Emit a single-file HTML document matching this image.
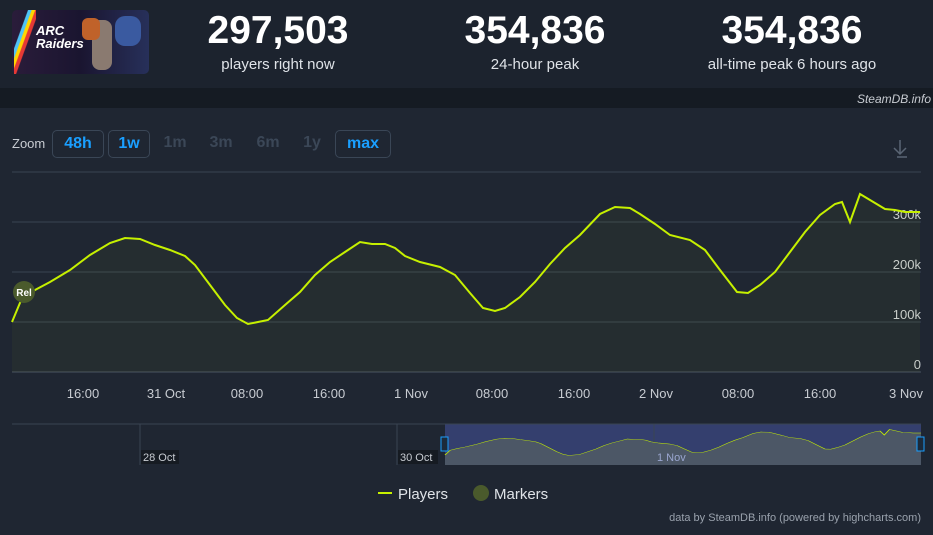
<!DOCTYPE html><html><head><style>
body{margin:0;width:933px;height:535px;background:#1f2632;font-family:"Liberation Sans",sans-serif;overflow:hidden;position:relative}
.hdr{position:absolute;left:0;top:0;width:933px;height:88px;background:#1c232e}
.band{position:absolute;left:0;top:88px;width:933px;height:20px;background:#151b23}
.num{position:absolute;top:9px;width:260px;text-align:center;color:#fff;font-weight:bold;font-size:39px}
.lbl{position:absolute;top:56px;width:260px;text-align:center;color:#dfe3e8;font-size:15px}
.btn{position:absolute;top:130px;height:26px;line-height:26px;font-size:16px;font-weight:bold;text-align:center;border-radius:5px}
.on{border:1px solid #3a4656;color:#1a9fff}
.off{color:#3b4757}
</style></head><body>
<div class="hdr"></div><div class="band"></div>
<div style="position:absolute;left:12px;top:10px;width:137px;height:64px;border-radius:5px;background:linear-gradient(90deg,#2a1c3a,#1a1530 50%,#27305a)">
<div style="position:absolute;left:2px;top:0;width:22px;height:64px;background:linear-gradient(110deg,transparent 30%,#4fc3f7 32%,#4fc3f7 38%,#ffd600 40%,#ffd600 46%,#e53935 48%,#e53935 55%,transparent 57%)"></div>
<div style="position:absolute;left:24px;top:14px;color:#fff;font-weight:bold;font-size:13px;line-height:13px;font-style:italic">ARC<br>Raiders</div>
<div style="position:absolute;left:80px;top:10px;width:20px;height:50px;background:#8a7a70;border-radius:8px"></div>
<div style="position:absolute;left:70px;top:8px;width:18px;height:22px;background:#c0622a;border-radius:6px"></div>
<div style="position:absolute;left:103px;top:6px;width:26px;height:30px;background:#3a5aa0;border-radius:10px"></div>
</div>
<div class="num" style="left:148px">297,503</div><div class="lbl" style="left:148px">players right now</div>
<div class="num" style="left:405px">354,836</div><div class="lbl" style="left:405px">24-hour peak</div>
<div class="num" style="left:662px">354,836</div><div class="lbl" style="left:662px">all-time peak 6 hours ago</div>
<div style="position:absolute;right:2px;top:92px;color:#c8ccd2;font-size:12px;font-style:italic">SteamDB.info</div>
<div style="position:absolute;left:12px;top:136px;color:#c8ccd2;font-size:13px">Zoom</div>
<div class="btn on" style="left:52px;width:50px">48h</div>
<div class="btn on" style="left:108px;width:40px">1w</div>
<div class="btn off" style="left:160px;width:30px">1m</div>
<div class="btn off" style="left:205px;width:32px">3m</div>
<div class="btn off" style="left:252px;width:32px">6m</div>
<div class="btn off" style="left:298px;width:28px">1y</div>
<div class="btn on" style="left:335px;width:54px">max</div>
<svg width="933" height="535" style="position:absolute;left:0;top:0" font-family="Liberation Sans,sans-serif">
<path d="M900 140v14M894 148l6 6 6-6M897 157h10" stroke="#5a6574" stroke-width="1.5" fill="none"/>
<g stroke="#3a4452" stroke-width="1"><line x1="12" x2="921" y1="172" y2="172"/><line x1="12" x2="921" y1="222" y2="222"/><line x1="12" x2="921" y1="272" y2="272"/><line x1="12" x2="921" y1="322" y2="322"/></g>
<line x1="12" x2="921" y1="372" y2="372" stroke="#4a5462"/>
<g fill="#c8ccd2" font-size="13" text-anchor="end"><text x="921" y="219">300k</text><text x="921" y="269">200k</text><text x="921" y="319">100k</text><text x="921" y="369">0</text></g>
<defs><path id="L" d="M12,322 L22,298 L35,290 L50,282 L70,270 L90,255 L110,243 L125,238 L140,239 L155,245 L170,250 L185,256 L195,265 L210,285 L225,305 L237,318 L248,324 L268,320 L285,305 L300,292 L315,275 L330,262 L345,252 L360,242 L372,244 L385,244 L395,248 L405,256 L420,262 L440,267 L455,275 L470,293 L483,308 L495,311 L505,308 L520,297 L535,282 L550,264 L565,248 L580,235 L600,214 L615,207 L630,208 L640,214 L655,224 L670,235 L690,240 L705,250 L720,270 L737,292 L748,293 L760,285 L775,272 L790,252 L805,232 L820,215 L835,204 L842,202 L850,222 L860,194 L875,203 L885,209 L895,210 L905,212 L920,212"/></defs>
<path d="M12,322 L22,298 L35,290 L50,282 L70,270 L90,255 L110,243 L125,238 L140,239 L155,245 L170,250 L185,256 L195,265 L210,285 L225,305 L237,318 L248,324 L268,320 L285,305 L300,292 L315,275 L330,262 L345,252 L360,242 L372,244 L385,244 L395,248 L405,256 L420,262 L440,267 L455,275 L470,293 L483,308 L495,311 L505,308 L520,297 L535,282 L550,264 L565,248 L580,235 L600,214 L615,207 L630,208 L640,214 L655,224 L670,235 L690,240 L705,250 L720,270 L737,292 L748,293 L760,285 L775,272 L790,252 L805,232 L820,215 L835,204 L842,202 L850,222 L860,194 L875,203 L885,209 L895,210 L905,212 L920,212 L920,372 L12,372Z" fill="#c6f000" fill-opacity="0.04"/>
<use href="#L" stroke="#c6f000" stroke-width="2" fill="none"/>
<circle cx="24" cy="292" r="11" fill="#4a5a2c"/><text x="24" y="296" fill="#fff" font-size="10" font-weight="bold" text-anchor="middle">Rel</text>
<g fill="#c8ccd2" font-size="13" text-anchor="middle"><text x="83" y="398">16:00</text><text x="166" y="398">31 Oct</text><text x="247" y="398">08:00</text><text x="329" y="398">16:00</text><text x="411" y="398">1 Nov</text><text x="492" y="398">08:00</text><text x="574" y="398">16:00</text><text x="656" y="398">2 Nov</text><text x="738" y="398">08:00</text><text x="820" y="398">16:00</text><text x="906" y="398">3 Nov</text></g>
<rect x="445" y="424" width="476" height="41" fill="#343f6e"/>
<g stroke="#3a4452"><line x1="140" x2="140" y1="424" y2="465"/><line x1="397" x2="397" y1="424" y2="465"/><line x1="654" x2="654" y1="424" y2="465"/></g>
<line x1="12" x2="921" y1="424" y2="424" stroke="#3a4452"/>
<g transform="translate(445,465) scale(0.5242,0.2) translate(-12,-372)">
<path d="M12,322 L22,298 L35,290 L50,282 L70,270 L90,255 L110,243 L125,238 L140,239 L155,245 L170,250 L185,256 L195,265 L210,285 L225,305 L237,318 L248,324 L268,320 L285,305 L300,292 L315,275 L330,262 L345,252 L360,242 L372,244 L385,244 L395,248 L405,256 L420,262 L440,267 L455,275 L470,293 L483,308 L495,311 L505,308 L520,297 L535,282 L550,264 L565,248 L580,235 L600,214 L615,207 L630,208 L640,214 L655,224 L670,235 L690,240 L705,250 L720,270 L737,292 L748,293 L760,285 L775,272 L790,252 L805,232 L820,215 L835,204 L842,202 L850,222 L860,194 L875,203 L885,209 L895,210 L905,212 L920,212 L920,372 L12,372Z" fill="#4c5766"/>
<use href="#L" stroke="#c6f000" stroke-width="2" fill="none" vector-effect="non-scaling-stroke"/>
</g>
<rect x="141" y="450" width="38" height="14" fill="#161b22"/><rect x="398" y="450" width="40" height="14" fill="#161b22"/>
<g fill="#c8ccd2" font-size="11"><text x="143" y="461">28 Oct</text><text x="400" y="461">30 Oct</text><text x="657" y="461" fill="#9aa6d0">1 Nov</text></g>
<rect x="441" y="437" width="7" height="14" fill="#1c2a3a" stroke="#1a9fff"/><rect x="917" y="437" width="7" height="14" fill="#1c2a3a" stroke="#1a9fff"/>
<line x1="378" x2="392" y1="493" y2="493" stroke="#c6f000" stroke-width="2"/>
<text x="398" y="499" fill="#dfe3e8" font-size="15">Players</text>
<circle cx="481" cy="493" r="8" fill="#4a5a2c"/>
<text x="494" y="499" fill="#dfe3e8" font-size="15">Markers</text>
<text x="921" y="521" fill="#9aa2ad" font-size="11" text-anchor="end">data by SteamDB.info (powered by highcharts.com)</text>
</svg>
</body></html>
